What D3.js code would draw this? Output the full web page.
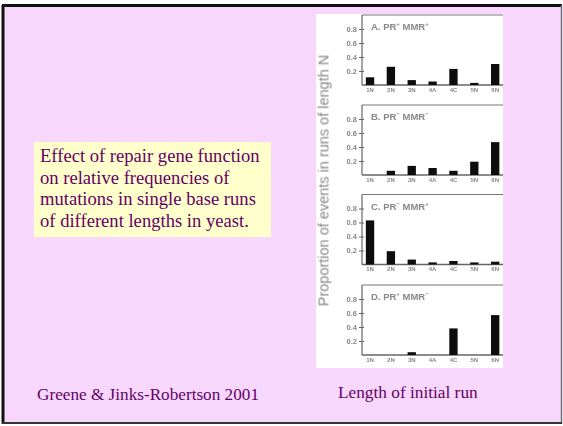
<!DOCTYPE html>
<html>
<head>
<meta charset="utf-8">
<script src="https://cdn.jsdelivr.net/npm/d3@7"></script>
<style>
  body { margin: 0; background: #ffffff; }
  .serif { font-family: "Liberation Serif", "Times New Roman", serif; fill: #660066; }
  .tick text { font-family: "Liberation Sans", Arial, sans-serif; font-weight: bold; fill: #888; }
  .tick line, .domain { stroke: #666; }
</style>
</head>
<body>
<div id="chart"></div>
<script>
var svgWidth = 563;
var svgHeight = 426;

// data
var categories = ["1N", "2N", "3N", "4A", "4C", "5N", "6N"];
var panelTitles = [
    ["A. PR", "+", " MMR", "+"],
    ["B. PR", "\u2212", " MMR", "\u2212"],
    ["C. PR", "\u2212", " MMR", "+"],
    ["D. PR", "+", " MMR", "\u2212"]
];
var valuesA = [0.11, 0.26, 0.07, 0.05, 0.23, 0.03, 0.30];
var valuesB = [0.00, 0.06, 0.13, 0.10, 0.06, 0.19, 0.47];
var valuesC = [0.63, 0.19, 0.07, 0.03, 0.05, 0.03, 0.04];
var valuesD = [0.00, 0.00, 0.04, 0.00, 0.38, 0.00, 0.57];
var yTicks = [0.2, 0.4, 0.6, 0.8];
var panels = [valuesA, valuesB, valuesC, valuesD];

var captionLines = [
    "Effect of repair gene function",
    "on relative frequencies of",
    "mutations in single base runs",
    "of different lengths in yeast."
];

var svg = d3.select("#chart")
    .append("svg")
    .attr("width", svgWidth)
    .attr("height", svgHeight);

// slide frame
svg.append("rect")
    .attr("x", 3).attr("y", 5)
    .attr("width", 558).attr("height", 418)
    .attr("fill", "#f7d8fc");
svg.append("line").attr("x1", 2).attr("x2", 562).attr("y1", 5.5).attr("y2", 5.5)
    .attr("stroke", "#111").attr("stroke-width", 3);
svg.append("line").attr("x1", 3).attr("x2", 3).attr("y1", 5).attr("y2", 424)
    .attr("stroke", "#111").attr("stroke-width", 3);
svg.append("line").attr("x1", 561.5).attr("x2", 561.5).attr("y1", 5).attr("y2", 424)
    .attr("stroke", "#7a6a80").attr("stroke-width", 1.5);
svg.append("line").attr("x1", 2).attr("x2", 562).attr("y1", 423).attr("y2", 423)
    .attr("stroke", "#333").attr("stroke-width", 2);

// caption box
svg.append("rect")
    .attr("x", 34).attr("y", 142)
    .attr("width", 237).attr("height", 95)
    .attr("fill", "#ffffcc");

svg.selectAll("text.caption")
    .data(captionLines)
    .enter()
    .append("text")
    .attr("class", "caption serif")
    .attr("x", 40)
    .attr("y", (d, i) => 162 + i * 21.7)
    .attr("font-size", "18.6px")
    .text(d => d);

svg.append("text")
    .attr("class", "serif")
    .attr("x", 37).attr("y", 400)
    .attr("font-size", "17.2px")
    .text("Greene & Jinks-Robertson 2001");

svg.append("text")
    .attr("class", "serif")
    .attr("x", 338).attr("y", 398)
    .attr("font-size", "17.3px")
    .text("Length of initial run");

// figure
var defs = svg.append("defs");
defs.append("filter").attr("id", "soft")
    .append("feGaussianBlur").attr("stdDeviation", 0.7);

svg.append("rect")
    .attr("x", 316).attr("y", 14)
    .attr("width", 187).attr("height", 354)
    .attr("fill", "#ffffff");

var fig = svg.append("g").attr("filter", "url(#soft)");

var xScale = d3.scaleBand()
    .domain(categories)
    .range([359.6, 505.6])
    .paddingInner(0.6)
    .paddingOuter(0.3);

var baselines = [85, 175, 264.5, 355];
var panelHeight = 70;

panels.forEach(function (values, p) {
    var base = baselines[p];
    var yScale = d3.scaleLinear()
        .domain([0, 1])
        .range([base, base - panelHeight]);

    var g = fig.append("g");

    // top frame line
    g.append("line")
        .attr("x1", 362).attr("x2", 503)
        .attr("y1", yScale(1)).attr("y2", yScale(1))
        .attr("stroke", "#777").attr("stroke-width", 1.2);

    g.append("g")
        .attr("transform", `translate(362, 0)`)
        .call(d3.axisLeft(yScale).tickValues(yTicks).tickSize(3).tickPadding(2)
            .tickFormat(d3.format(".1f")))
        .call(a => a.select(".domain").attr("d", `M0,${yScale(1)}V${base}`).attr("stroke-width", 1.2))
        .call(a => a.selectAll(".tick line").attr("x2", 2).attr("x1", -3))
        .call(a => a.selectAll(".tick text").attr("font-size", "7.5px"));

    g.append("g")
        .attr("transform", `translate(0, ${base})`)
        .call(d3.axisBottom(xScale).tickSize(0).tickPadding(2.5))
        .call(a => a.select(".domain").attr("d", "M362,0H503").attr("stroke-width", 1.5))
        .call(a => a.selectAll(".tick text").attr("font-size", "6px"));

    g.selectAll("rect.bar")
        .data(values)
        .enter()
        .append("rect")
        .attr("class", "bar")
        .attr("x", (d, i) => xScale(categories[i]))
        .attr("width", xScale.bandwidth())
        .attr("y", d => yScale(d))
        .attr("height", d => base - yScale(d))
        .attr("fill", "#111");

    var t = panelTitles[p];
    var title = g.append("text")
        .attr("x", 371).attr("y", yScale(1) + 15)
        .attr("font-family", "Liberation Sans, Arial, sans-serif")
        .attr("font-weight", "bold")
        .attr("font-size", "9.5px")
        .attr("fill", "#888");
    title.append("tspan").text(t[0]);
    title.append("tspan").attr("dy", -4).attr("font-size", "6px").text(t[1]);
    title.append("tspan").attr("dy", 4).text(t[2]);
    title.append("tspan").attr("dy", -4).attr("font-size", "6px").text(t[3]);
});

fig.append("text")
    .attr("transform", "translate(328.5, 180.5) rotate(-90)")
    .attr("text-anchor", "middle")
    .attr("font-family", "Liberation Sans, Arial, sans-serif")
    .attr("font-size", "14.5px")
    .attr("fill", "#888")
    .text("Proportion of events in runs of length N");
</script>
</body>
</html>
